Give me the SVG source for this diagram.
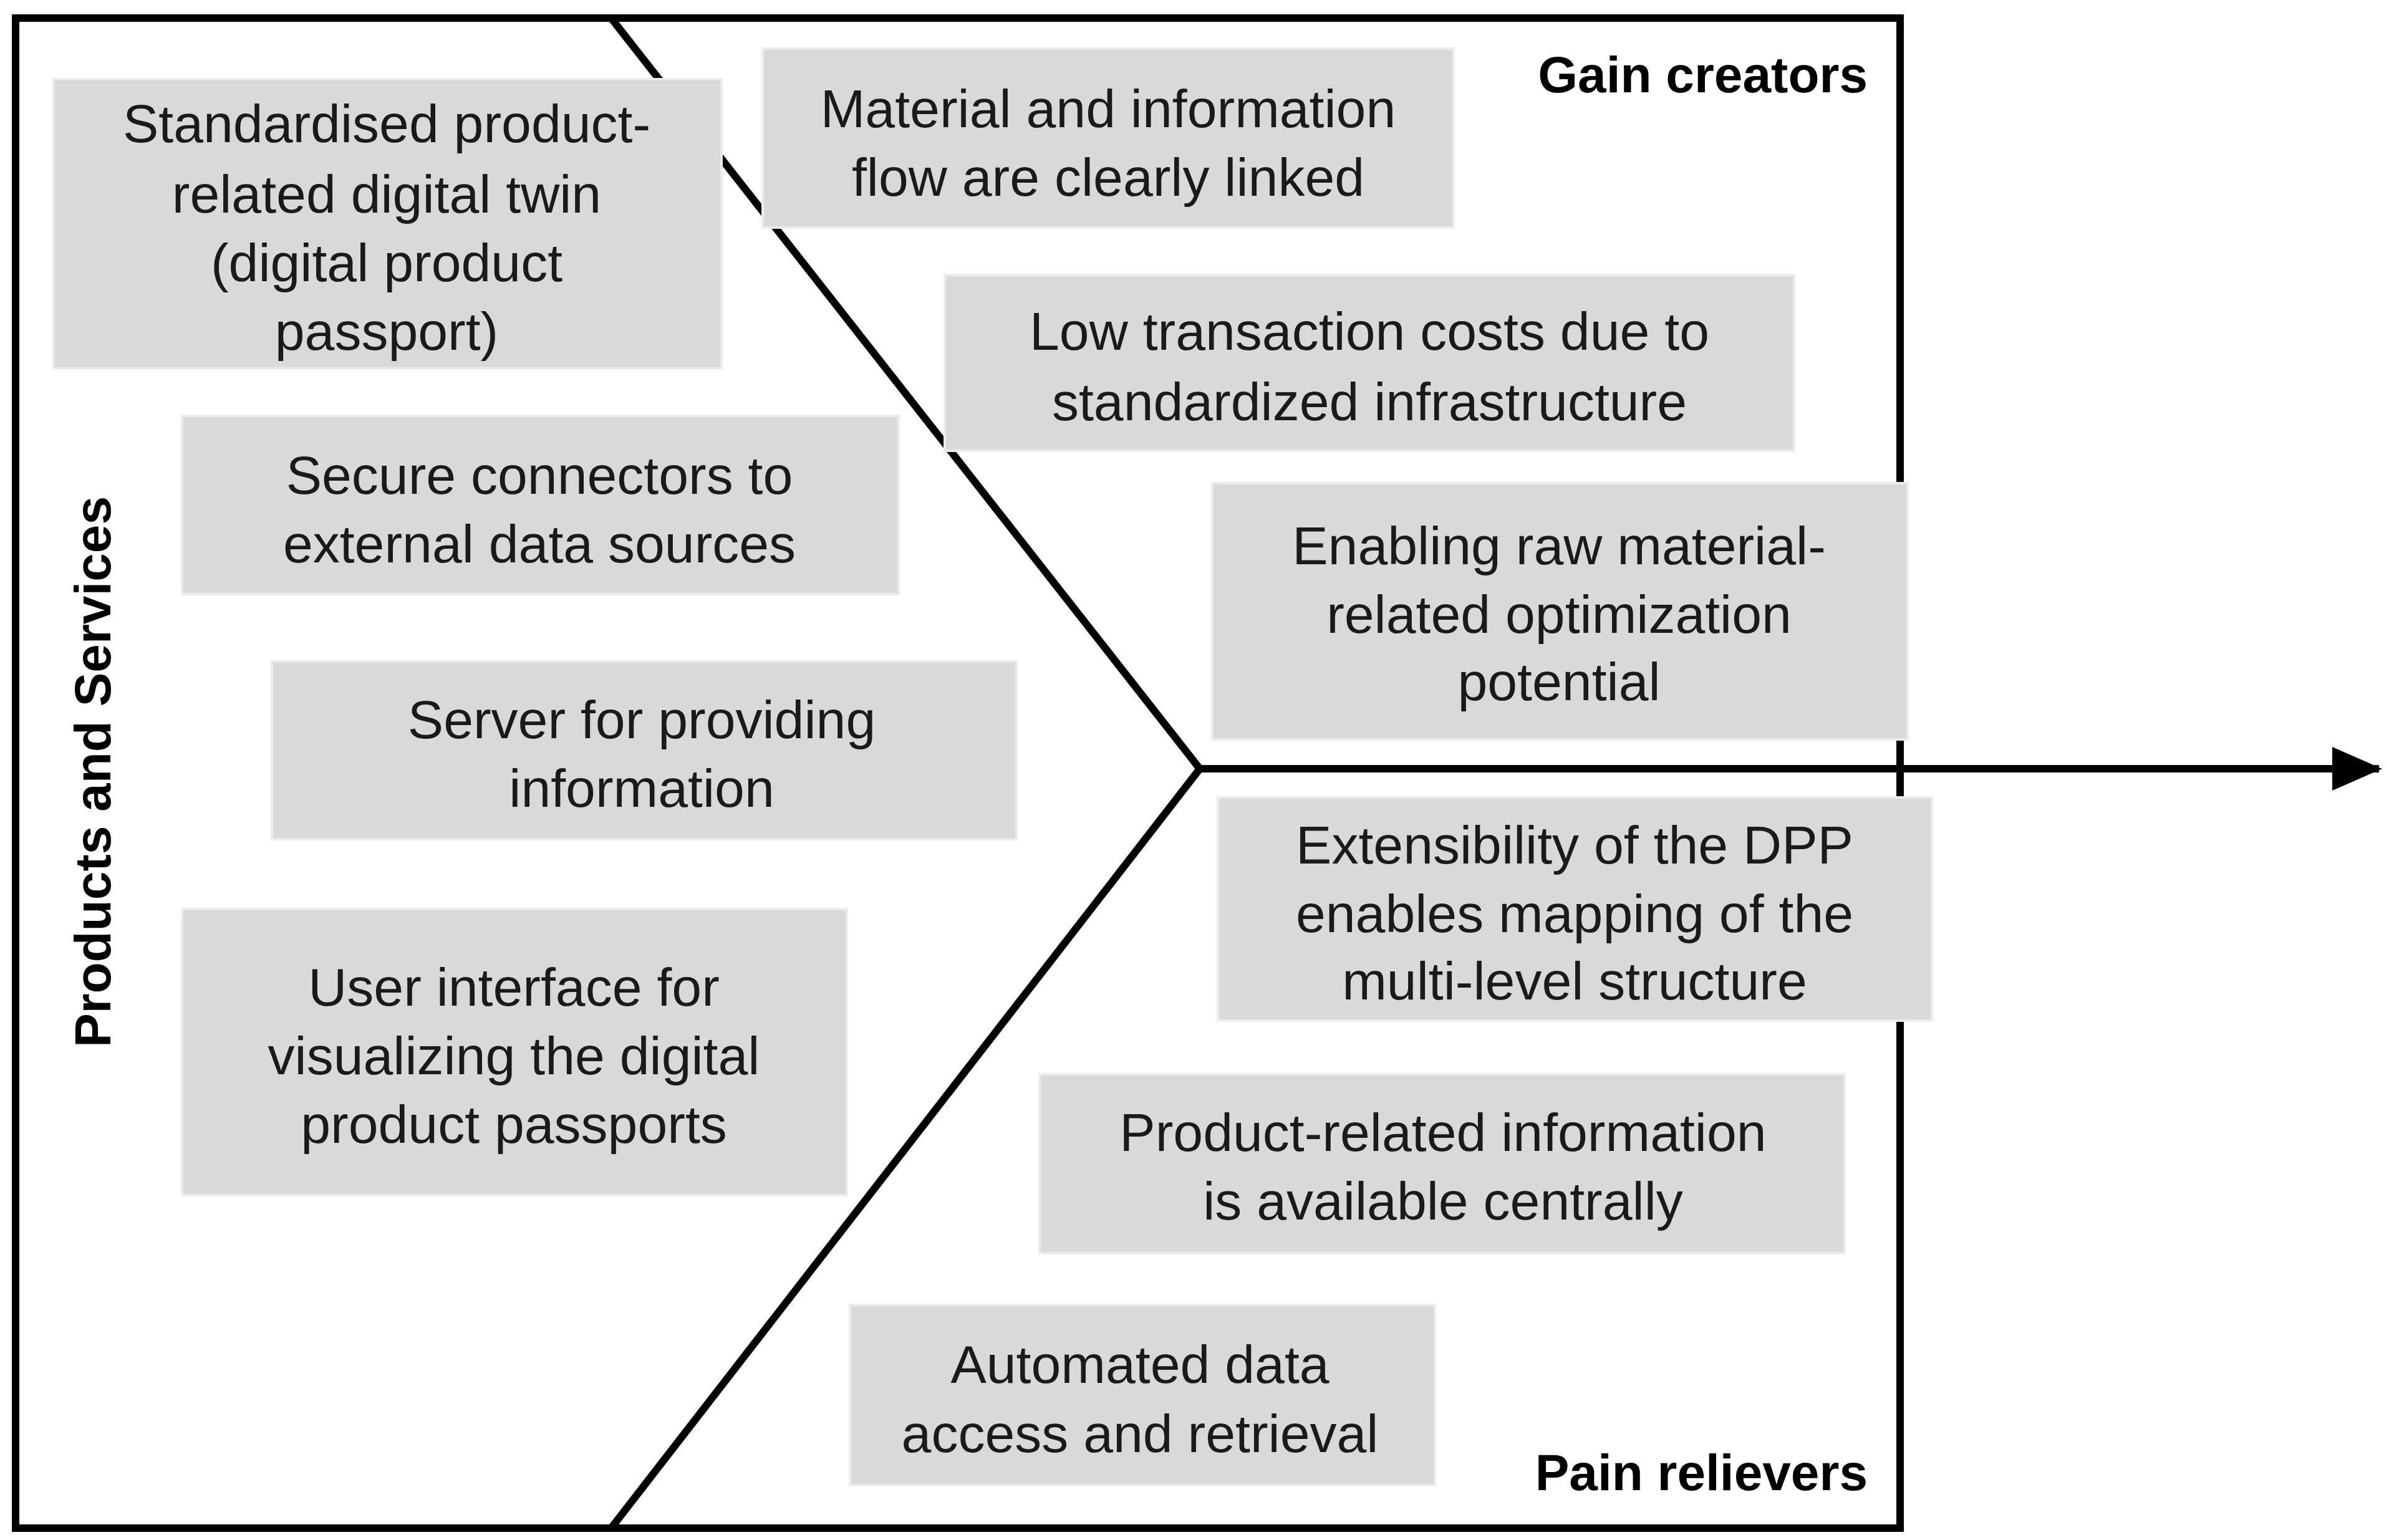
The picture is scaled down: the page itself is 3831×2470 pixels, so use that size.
<svg xmlns="http://www.w3.org/2000/svg" width="3831" height="2470" viewBox="0 0 3831 2470">
<style>
.b{fill:#d9d9d9;stroke:#ececec;stroke-width:4}
.t{font-family:"Liberation Sans",Arial,sans-serif;font-size:86px;fill:#1a1a1a;text-anchor:middle}
.h{font-family:"Liberation Sans",Arial,sans-serif;font-size:82px;font-weight:bold;fill:#000}
.l{fill:none;stroke:#000;stroke-width:12}
</style>
<defs><marker id="ah" markerUnits="userSpaceOnUse" markerWidth="80" markerHeight="70" refX="75" refY="35" orient="auto"><path d="M0,0 L80,35 L0,70 Z" fill="#000"/></marker></defs>
<rect x="0" y="0" width="3831" height="2470" fill="#fff"/>
<g id="connectors">
<rect class="l" x="25" y="29" width="3022" height="2422"/>
<polyline class="l" points="980,29 1924,1233 980,2451"/>
<line class="l" x1="1924" y1="1233" x2="3815" y2="1233" marker-end="url(#ah)"/>
</g>
<g id="n1"><rect class="b" x="86" y="127" width="1071" height="464"/><text class="t" x="620"><tspan x="620" y="228">Standardised product-</tspan><tspan x="620" y="341">related digital twin</tspan><tspan x="620" y="451">(digital product</tspan><tspan x="620" y="561">passport)</tspan></text></g>
<g id="n2"><rect class="b" x="292" y="667" width="1149" height="286"/><text class="t"><tspan x="865" y="792">Secure connectors to</tspan><tspan x="865" y="902">external data sources</tspan></text></g>
<g id="n3"><rect class="b" x="436" y="1061" width="1194" height="285"/><text class="t"><tspan x="1029" y="1184">Server for providing</tspan><tspan x="1029" y="1294">information</tspan></text></g>
<g id="n4"><rect class="b" x="292" y="1458" width="1066" height="459"/><text class="t"><tspan x="824" y="1613">User interface for</tspan><tspan x="824" y="1723">visualizing the digital</tspan><tspan x="824" y="1833">product passports</tspan></text></g>
<g id="n5"><rect class="b" x="1223" y="78" width="1108" height="287"/><text class="t"><tspan x="1777" y="204">Material and information</tspan><tspan x="1777" y="314">flow are clearly linked</tspan></text></g>
<g id="n6"><rect class="b" x="1515" y="441" width="1362" height="282"/><text class="t"><tspan x="2196" y="561">Low transaction costs due to</tspan><tspan x="2196" y="674">standardized infrastructure</tspan></text></g>
<g id="n7"><rect class="b" x="1944" y="775" width="1115" height="411"/><text class="t"><tspan x="2500" y="905">Enabling raw material-</tspan><tspan x="2500" y="1015">related optimization</tspan><tspan x="2500" y="1123">potential</tspan></text></g>
<g id="n8"><rect class="b" x="1953" y="1279" width="1145" height="358"/><text class="t"><tspan x="2525" y="1385">Extensibility of the DPP</tspan><tspan x="2525" y="1495">enables mapping of the</tspan><tspan x="2525" y="1603">multi-level structure</tspan></text></g>
<g id="n9"><rect class="b" x="1667" y="1723" width="1291" height="287"/><text class="t"><tspan x="2314" y="1846">Product-related information</tspan><tspan x="2314" y="1956">is available centrally</tspan></text></g>
<g id="n10"><rect class="b" x="1363" y="2093" width="938" height="289"/><text class="t"><tspan x="1828" y="2218">Automated data</tspan><tspan x="1828" y="2329">access and retrieval</tspan></text></g>
<g id="labels">
<text class="h" x="2995" y="148" text-anchor="end">Gain creators</text>
<text class="h" x="2995" y="2390" text-anchor="end">Pain relievers</text>
<text class="h" transform="translate(177,1238) rotate(-90)" text-anchor="middle">Products and Services</text>
</g>
</svg>
